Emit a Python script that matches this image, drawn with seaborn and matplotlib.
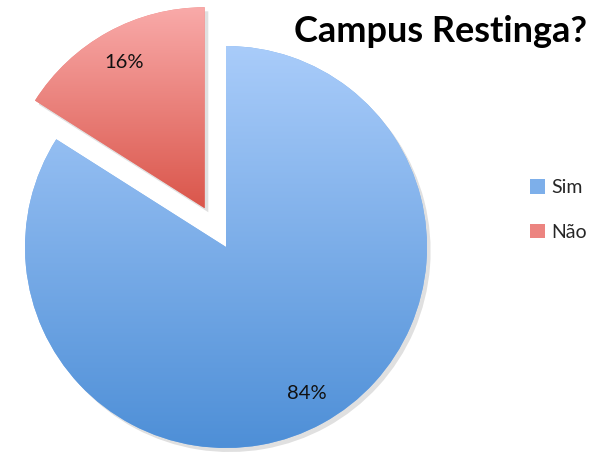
import numpy as np
import matplotlib
matplotlib.use("Agg")
import matplotlib.pyplot as plt
from matplotlib.colors import LinearSegmentedColormap
from matplotlib.patches import Patch
import seaborn as sns

# data
labels = ["Sim", "Não"]
values = [84, 16]
explode = [0, 0.22]
top_colors = ["#A9CCFA", "#F9AAA9"]
bottom_colors = ["#4E8FD7", "#DA564B"]
mid_colors = ["#7DAFEA", "#EC8480"]

sns.set_style("white")
plt.rcParams['font.family'] = ['Lato', 'DejaVu Sans']

fig = plt.figure(figsize=(5.94, 4.53), dpi=100)
ax = fig.add_axes([0, 0, 1, 1])

# shadow under the slices
shadow, _ = ax.pie(values, explode=explode, startangle=90, counterclock=False,
                   center=(0.018, -0.02), colors=["#000000"] * 2,
                   wedgeprops={'alpha': 0.12, 'linewidth': 0})

wedges, texts, autotexts = ax.pie(values, explode=explode, startangle=90,
                                  counterclock=False, colors=mid_colors,
                                  autopct='%1.0f%%', pctdistance=0.83,
                                  wedgeprops={'linewidth': 0},
                                  textprops={'fontsize': 14.5, 'color': '#111111'})

# vertical gradient inside each slice
for w, c_top, c_bot in zip(wedges, top_colors, bottom_colors):
    ext = w.get_path().get_extents()
    cmap = LinearSegmentedColormap.from_list("g", [c_bot, c_top])
    grad = np.linspace(0, 1, 256).reshape(-1, 1)
    im = ax.imshow(grad, cmap=cmap, origin='lower', aspect='auto',
                   extent=[ext.x0, ext.x1, ext.y0, ext.y1], zorder=w.get_zorder() + 0.1)
    im.set_clip_path(w)

for t in autotexts:
    t.set_zorder(5)

r_px = 201
ax.set_xlim(-226 / r_px, (594 - 226) / r_px)
ax.set_ylim(-206 / r_px, 247 / r_px)
ax.set_aspect('auto')
ax.axis('off')

fig.text(294 / 594, 1 - 42 / 453, "Campus Restinga?", fontsize=26, fontweight='bold',
         ha='left', va='baseline', color='#000000')

handles = [Patch(facecolor=c, edgecolor='none') for c in mid_colors]
fig.legend(handles, labels, loc='center left', bbox_to_anchor=(512 / 594, 1 - 210 / 453),
           frameon=False, fontsize=14, handlelength=0.8, handleheight=0.8,
           handletextpad=0.3, labelspacing=1.4)

fig.savefig("out.png", dpi=100)
